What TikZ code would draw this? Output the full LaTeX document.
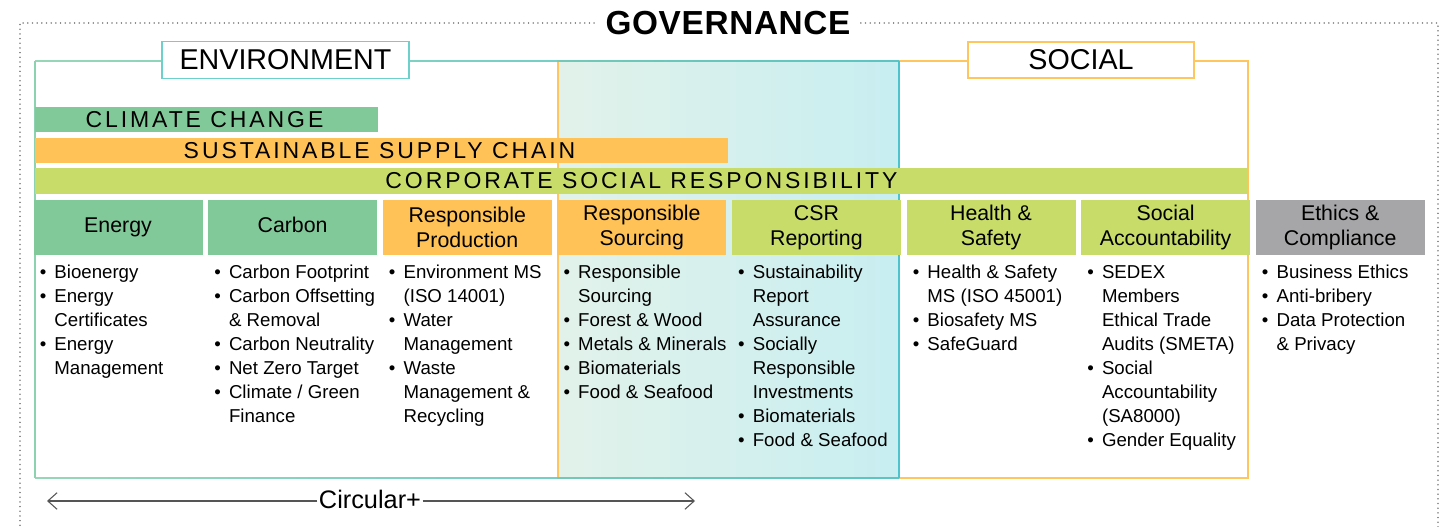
\documentclass[tikz,border=0pt]{standalone}
\usepackage{fontspec}
\setmainfont{Liberation Sans}
\newfontfamily\bandfont[LetterSpace=12.7]{Liberation Sans}
\newfontfamily\govfont[LetterSpace=2]{Liberation Sans}
\usetikzlibrary{arrows.meta}
\definecolor{cgreen}{RGB}{130,201,154}
\definecolor{corange}{RGB}{254,194,87}
\definecolor{clime}{RGB}{200,220,106}
\definecolor{cgray}{RGB}{166,166,168}
\definecolor{gradL}{RGB}{226,242,234}
\definecolor{gradR}{RGB}{200,238,241}
\definecolor{envL}{RGB}{140,210,175}
\definecolor{envR}{RGB}{75,196,206}
\definecolor{envlab}{RGB}{110,208,205}
\definecolor{socline}{RGB}{255,198,96}
\definecolor{dotgray}{RGB}{130,130,130}
\definecolor{arrgray}{RGB}{85,85,85}
\begin{document}
\begin{tikzpicture}[x=0.75pt,y=-0.75pt,
  dotline/.style={dotgray, line width=1.2pt, dash pattern=on 0.01pt off 3.5pt, line cap=round},
  band/.style={inner sep=0pt, minimum height=18.75pt, font=\bandfont\fontsize{17.25}{20}\selectfont},
  head/.style={inner sep=0pt, minimum width=126.75pt, minimum height=41.25pt, align=center,
    font=\fontsize{16}{18.75}\selectfont},
  blist/.style={inner sep=0pt, anchor=base west, font=\fontsize{14}{18}\selectfont},
  sectlabel/.style={fill=white, line width=1.1pt, inner sep=0pt, font=\fontsize{21.5}{26}\selectfont},
  arr/.style={arrgray, line width=0.8pt, -{Straight Barb[length=7pt,width=12.5pt,line width=0.8pt]}}
]
\useasboundingbox (0,0) rectangle (1453,527);

% governance frame
\draw[dotline] (20,530) -- (20,23) -- (1438,23) -- (1438,530);
\node[fill=white, inner xsep=7pt, inner ysep=2pt, font=\govfont\fontsize{25}{30}\selectfont\bfseries] (gov) at (728,23) {GOVERNANCE};

% overlap shading
\shade[left color=gradL, right color=gradR] (558,61) rectangle (899,478);
% social frame
\draw[socline, line width=1.2pt] (558,61) rectangle (1248,478);
% environment frame
\shade[left color=envL, right color=envR, opacity=0.9] (35,60.2) rectangle (899,61.8);
\shade[left color=envL, right color=envR, opacity=0.9] (35,477.2) rectangle (899,478.8);
\fill[envL] (34.2,61) rectangle (35.8,478);
\fill[envR] (898.2,61) rectangle (899.8,478);

% section labels
\node[sectlabel, draw=envlab, minimum width=185.25pt, minimum height=27.75pt] (env) at (285.5,60) {ENVIRONMENT};
\node[sectlabel, draw=socline, minimum width=169.5pt, minimum height=27pt] (soc) at (1081,60) {SOCIAL};

% bands
\node[band, fill=cgreen, minimum width=257.25pt] (cc) at (206.5,119.5) {\hspace*{-3pt}CLIMATE CHANGE};
\node[band, fill=corange, minimum width=519.75pt] (ssc) at (381.5,150.5) {\hspace*{-3pt}SUSTAINABLE SUPPLY CHAIN};
\node[band, fill=clime, minimum width=909.75pt, minimum height=19.5pt] (csr) at (641.5,181) {CORPORATE SOCIAL RESPONSIBILITY};

% headers
\node[head, fill=cgreen]  (h1) at (118,227.5)    {\raisebox{-1.5pt}{\strut Energy}};
\node[head, fill=cgreen]  (h2) at (292.6,227.5)  {\raisebox{-1.5pt}{\strut Carbon}};
\node[head, fill=corange] (h3) at (467.2,227.5)  {Responsible\\Production};
\node[head, fill=corange] (h4) at (641.8,227.5)  {Responsible\\Sourcing};
\node[head, fill=clime]   (h5) at (816.4,227.5)  {CSR\\Reporting};
\node[head, fill=clime]   (h6) at (991,227.5)    {Health \&\\Safety};
\node[head, fill=clime]   (h7) at (1165.6,227.5) {Social\\Accountability};
\node[head, fill=cgray]   (h8) at (1340.2,227.5) {Ethics \&\\Compliance};

% lists
\node[blist] (l1) at (39.5,279) {\begin{tabular}[t]{@{}p{11pt}@{}l@{}}
•&Bioenergy\\ •&Energy\\ &Certificates\\ •&Energy\\ &Management\end{tabular}};
\node[blist] (l2) at (214.1,279) {\begin{tabular}[t]{@{}p{11pt}@{}l@{}}
•&Carbon Footprint\\ •&Carbon Offsetting\\ &\& Removal\\ •&Carbon Neutrality\\ •&Net Zero Target\\ •&Climate / Green\\ &Finance\end{tabular}};
\node[blist] (l3) at (388.7,279) {\begin{tabular}[t]{@{}p{11pt}@{}l@{}}
•&Environment MS\\ &(ISO 14001)\\ •&Water\\ &Management\\ •&Waste\\ &Management \&\\ &Recycling\end{tabular}};
\node[blist] (l4) at (563.3,279) {\begin{tabular}[t]{@{}p{11pt}@{}l@{}}
•&Responsible\\ &Sourcing\\ •&Forest \& Wood\\ •&Metals \& Minerals\\ •&Biomaterials\\ •&Food \& Seafood\end{tabular}};
\node[blist] (l5) at (737.9,279) {\begin{tabular}[t]{@{}p{11pt}@{}l@{}}
•&Sustainability\\ &Report\\ &Assurance\\ •&Socially\\ &Responsible\\ &Investments\\ •&Biomaterials\\ •&Food \& Seafood\end{tabular}};
\node[blist] (l6) at (912.5,279) {\begin{tabular}[t]{@{}p{11pt}@{}l@{}}
•&Health \& Safety\\ &MS (ISO 45001)\\ •&Biosafety MS\\ •&SafeGuard\end{tabular}};
\node[blist] (l7) at (1087.1,279) {\begin{tabular}[t]{@{}p{11pt}@{}l@{}}
•&SEDEX\\ &Members\\ &Ethical Trade\\ &Audits (SMETA)\\ •&Social\\ &Accountability\\ &(SA8000)\\ •&Gender Equality\end{tabular}};
\node[blist] (l8) at (1261.7,279) {\begin{tabular}[t]{@{}p{11pt}@{}l@{}}
•&Business Ethics\\ •&Anti-bribery\\ •&Data Protection\\ &\& Privacy\end{tabular}};

% circular arrow
\coordinate (la) at (47,501);
\coordinate (ra) at (695,501);
\node[inner xsep=1pt, inner ysep=0pt, font=\fontsize{19}{22}\selectfont] (circ) at (370,499) {Circular+};
\draw[arr] (circ.west |- la) -- (la);
\draw[arr] (circ.east |- ra) -- (ra);
\end{tikzpicture}
\end{document}
